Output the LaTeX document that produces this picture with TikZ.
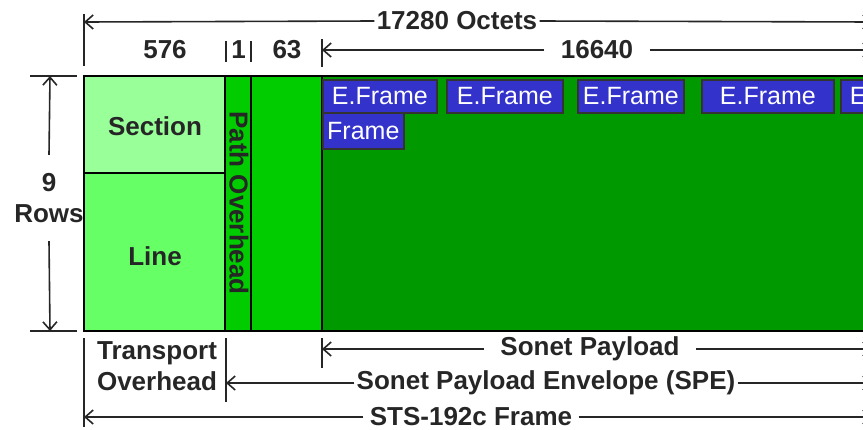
\documentclass[tikz,border=0pt]{standalone}
\usepackage{fontspec}
\setmainfont{Liberation Sans}
\usepackage{xcolor}
\usetikzlibrary{
	arrows.meta,
	positioning,
	calc
}
\definecolor{secgreen}{HTML}{99FF99}
\definecolor{linegreen}{HTML}{66FF66}
\definecolor{pathgreen}{HTML}{00CC00}
\definecolor{paygreen}{HTML}{009900}
\definecolor{frameblue}{HTML}{3333CC}

\begin{document}
\begin{tikzpicture}[x=0.5pt,y=-0.5pt,
		dim/.style={line width=0.8pt,draw=black!85,-{Straight Barb[length=4pt,width=7pt]}},
		tick/.style={line width=1pt,draw=black!85},
		block/.style={draw=black,line width=0.9pt},
		lbl/.style={font=\fontsize{13}{15.5}\selectfont\bfseries,text=black!85,inner sep=0pt},
		eframe/.style={draw=black!80,line width=0.8pt,fill=frameblue,text=white,
			font=\fontsize{12.5}{14}\selectfont,minimum height=16.5pt,
			minimum width=57pt,inner sep=0pt,anchor=north west}]
		
		\useasboundingbox (0,0) rectangle (863,429);
		\clip (0,0) rectangle (863,429);
		
		% Frame blocks
		\draw[block,fill=paygreen] (322,76) rectangle (900,331);
		\draw[block,fill=secgreen] (84,76) rectangle (225,173);
		\draw[block,fill=linegreen] (84,173) rectangle (225,331);
		\draw[block,fill=pathgreen] (225,76) rectangle (251,331);
		\draw[block,fill=pathgreen] (251,76) rectangle (322,331);
		
		\node[lbl] (section) at (155,126) {Section};
		\node[lbl] (line) at (155,256) {Line};
		\node[lbl,rotate=-90] (pathoh) at (239,203) {Path Overhead};
		
		% Payload frames
		\node[eframe] (ef1) at (322,79) {E.Frame};
		\node[eframe,minimum width=58pt] (ef2) at (446,79) {E.Frame};
		\node[eframe,minimum width=53pt] (ef3) at (577,79) {E.Frame};
		\node[eframe,minimum width=66pt] (ef4) at (701,79) {E.Frame};
		\node[eframe] (ef5) at (840,79) {E.Frame};
		\node[eframe,minimum width=40.5pt,minimum height=18pt] (ef6) at (322,112) {Frame};
		
		% Octets across the top
		\coordinate (octl) at (84,22);
		\coordinate (octr) at (872,22);
		\node[lbl,inner xsep=1pt] (octets) at (457,21) {17280 Octets};
		\draw[dim] (octets.west) -- (octl);
		\draw[dim] (octets.east) -- (octr);
		\draw[tick] (84,14) -- (84,66);
		
		\node[lbl] (w576) at (165,50) {576};
		\node[lbl] (w1) at (238.5,50) {1};
		\node[lbl] (w63) at (287,50) {63};
		\draw[tick] (226,41) -- (226,62);
		\draw[tick] (251,41) -- (251,62);
		\draw[tick] (322,39) -- (322,67);
		
		\coordinate (payl) at (322,50);
		\coordinate (payr) at (872,50);
		\node[lbl,inner xsep=8pt] (w16640) at (597,50) {16640};
		\draw[dim] (w16640.west) -- (payl);
		\draw[dim] (w16640.east) -- (payr);
		
		% Rows
		\coordinate (rowtop) at (50,76);
		\coordinate (rowbot) at (50,331);
		\node[lbl,align=center,inner ysep=9pt] (rows) at (49,198) {9\\Rows};
		\draw[dim] (rows.north) -- (rowtop);
		\draw[dim] (rows.south) -- (rowbot);
		\draw[tick] (30,76) -- (77,76);
		\draw[tick] (30,331) -- (77,331);
		
		% Bottom spans
		\node[lbl,align=center] (transport) at (157,366) {Transport\\Overhead};
		\draw[tick] (84,338) -- (84,427);
		\draw[tick] (226,338) -- (226,402);
		\draw[tick] (322,338) -- (322,368);
		
		\coordinate (sonl) at (322,349);
		\coordinate (sonr) at (872,349);
		\node[lbl,inner xsep=8pt] (sonet) at (590,349) {Sonet Payload};
		\draw[dim] (sonet.west) -- (sonl);
		\draw[dim] (sonet.east) -- (sonr);
		
		\coordinate (spel) at (226,383);
		\coordinate (sper) at (872,383);
		\node[lbl,inner xsep=1pt] (spe) at (546,383) {Sonet Payload Envelope (SPE)};
		\draw[dim] (spe.west) -- (spel);
		\draw[dim] (spe.east) -- (sper);
		
		\coordinate (stsl) at (84,417);
		\coordinate (stsr) at (872,417);
		\node[lbl,inner xsep=3pt] (sts) at (471,417) {STS-192c Frame};
		\draw[dim] (sts.west) -- (stsl);
		\draw[dim] (sts.east) -- (stsr);
		
	\end{tikzpicture}
\end{document}
